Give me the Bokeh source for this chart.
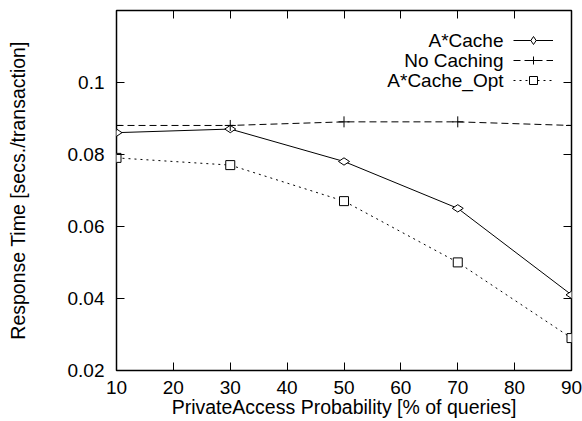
import math
from bokeh.plotting import figure
from bokeh.models import (LinearAxis, FixedTicker, Range1d, Legend, LegendItem, Label,
                          CustomLabelingPolicy)
from bokeh.embed import file_html
from bokeh.resources import INLINE

x_vals = [10, 30, 50, 70, 90]
acache = [0.086, 0.087, 0.078, 0.065, 0.041]
nocache = [0.088, 0.088, 0.089, 0.089, 0.088]
acache_opt = [0.079, 0.077, 0.067, 0.050, 0.029]
series_names = ["A*Cache", "No Caching", "A*Cache_Opt"]
x_ticks = [10, 20, 30, 40, 50, 60, 70, 80, 90]
y_ticks = [0.02, 0.04, 0.06, 0.08, 0.1]

X0, X1 = 10, 90
Y0, Y1 = 0.02, 0.1199

FONT = "Liberation Sans"
FS = "19px"
FS_LAB = "19.5px"

p = figure(width=582, height=421, output_backend="svg", toolbar_location=None,
           x_range=Range1d(X0, X1), y_range=Range1d(Y0, Y1),
           x_axis_type=None, y_axis_type=None,
           min_border_left=116, min_border_right=11, min_border_top=10, min_border_bottom=51)
p.outline_line_color = "black"
p.outline_line_width = 1.5
p.grid.visible = False
p.background_fill_color = "white"
p.border_fill_color = "white"

def style_axis(ax, show_labels):
    ax.axis_line_color = None
    ax.major_tick_in = 8
    ax.major_tick_out = 0
    ax.minor_tick_line_color = None
    ax.major_tick_line_color = "black"
    ax.major_tick_line_width = 1
    if show_labels:
        ax.major_label_text_font = FONT
        ax.major_label_text_font_size = FS
        ax.major_label_text_color = "black"
        ax.axis_label_text_font = FONT
        ax.axis_label_text_font_size = FS_LAB
        ax.axis_label_text_font_style = "normal"
        ax.axis_label_text_color = "black"
    else:
        ax.major_label_policy = CustomLabelingPolicy(
            code="try { return new indices.constructor(indices.size, 0) } catch (e) { return indices }")
        ax.major_label_text_font_size = "0px"
        ax.major_label_standoff = 0

xb = LinearAxis(ticker=FixedTicker(ticks=x_ticks), axis_label="PrivateAccess Probability [% of queries]")
style_axis(xb, True)
xb.major_label_standoff = 10
xb.axis_label_standoff = -1
p.add_layout(xb, "below")

yl = LinearAxis(ticker=FixedTicker(ticks=y_ticks), axis_label="Response Time [secs./transaction]")
style_axis(yl, True)
yl.major_label_standoff = 12
yl.axis_label_standoff = 36
p.add_layout(yl, "left")

xt = LinearAxis(ticker=FixedTicker(ticks=x_ticks), fixed_location=Y1)
style_axis(xt, False)
p.add_layout(xt, "above")
yr = LinearAxis(ticker=FixedTicker(ticks=y_ticks), fixed_location=X1)
style_axis(yr, False)
p.add_layout(yr, "right")

r1l = p.line(x_vals, acache, line_color="black", line_width=1)
r1m = p.scatter(x_vals, acache, marker="diamond", size=11, angle=math.pi / 2,
                fill_color="white", line_color="black")
r2l = p.line(x_vals, nocache, line_color="black", line_width=1, line_dash="7 4")
r2m = p.scatter(x_vals, nocache, marker="cross", size=11, line_color="black")
r3l = p.line(x_vals, acache_opt, line_color="black", line_width=1, line_dash="2 4")
r3m = p.scatter(x_vals, acache_opt, marker="square", size=9, fill_color="white", line_color="black")

legend = Legend(items=[LegendItem(label=" ", renderers=[r1l, r1m]),
                       LegendItem(label=" ", renderers=[r2l, r2m]),
                       LegendItem(label=" ", renderers=[r3l, r3m])],
                location=(397, 280), glyph_width=40, glyph_height=20, label_width=0,
                label_standoff=0, spacing=0, padding=0, margin=0,
                border_line_color=None, background_fill_alpha=0,
                label_text_font_size="1px", label_height=20)
p.add_layout(legend, "center")

for i, name in enumerate(series_names):
    p.add_layout(Label(x=387, y=330 - 20 * i, x_units="screen", y_units="screen", text=name,
                       text_align="right", text_baseline="middle", text_font=FONT,
                       text_font_size=FS, text_color="black"))

open("out.html", "w").write(file_html(p, INLINE))
